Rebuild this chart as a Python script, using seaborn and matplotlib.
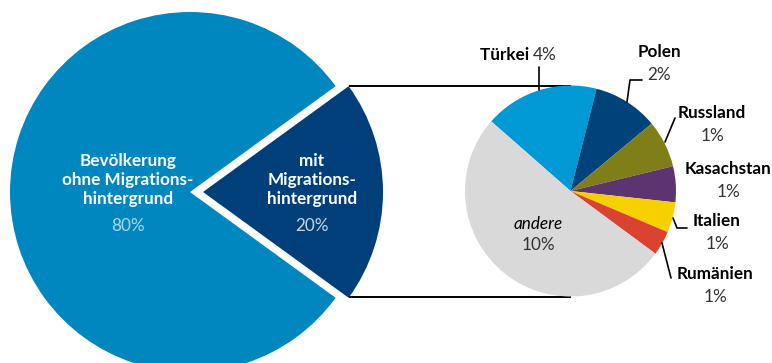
import numpy as np
import matplotlib
matplotlib.use("Agg")
import matplotlib.pyplot as plt
import seaborn as sns

# ---- data ----
main_labels = ["Bevölkerung\nohne Migrations-\nhintergrund", "mit\nMigrations-\nhintergrund"]
main_values = [80, 20]
main_pct = ["80%", "20%"]

sub_labels = ["Türkei", "Polen", "Russland", "Kasachstan", "Italien", "Rumänien", "andere"]
sub_values = [3.5, 2.0, 1.45, 1.1, 0.93, 0.75, 10.27]
sub_pct = ["4%", "2%", "1%", "1%", "1%", "1%", "10%"]

main_colors = ["#0087BF", "#003F7A"]
sub_colors = ["#0099D5", "#00427A", "#7F7E18", "#5E3470", "#F7D000", "#DA4331", "#D9D9D9"]

sns.set_theme(style="white")
plt.rcParams["font.family"] = ["Lato", "DejaVu Sans"]

W, H = 772, 363
fig = plt.figure(figsize=(W / 100, H / 100), dpi=100)
ax = fig.add_axes([0, 0, 1, 1])

# ---- big pie ----
R1 = 180
c1 = (190, 171)
half = 360 * main_values[1] / sum(main_values) / 2
explode_px = 13
ax.pie(main_values, colors=sns.color_palette(main_colors), startangle=half,
       counterclock=True, radius=R1, center=c1,
       explode=[0, explode_px], wedgeprops=dict(linewidth=0), frame=True)

# ---- small pie ----
R2 = 105.5
c2 = (570.5, 172)
start = 138.7
ax.pie(sub_values, colors=sns.color_palette(sub_colors), startangle=start,
       counterclock=False, radius=R2, center=c2,
       wedgeprops=dict(linewidth=0), frame=True)
ax.set_xlim(0, W)
ax.set_ylim(0, H)
ax.set_aspect("equal")
ax.axis("off")

# connector lines
cx = c1[0] + explode_px + R1 * np.cos(np.radians(half))
for s in (1, -1):
    ax.plot([cx, c2[0]], [c2[1] + s * R2, c2[1] + s * R2], color="black", lw=1.4,
            solid_capstyle="butt", zorder=0)

# ---- big pie texts ----
fs = 12.3
ax.text(128, 363 - 180, main_labels[0], ha="center", va="center", color="white",
        fontsize=fs, fontweight="bold", linespacing=1.2)
ax.text(128, 363 - 226, main_pct[0], ha="center", va="center", color="#A8D8EE", fontsize=fs)
ax.text(312, 363 - 180, main_labels[1], ha="center", va="center", color="white",
        fontsize=fs, fontweight="bold", linespacing=1.2)
ax.text(312, 363 - 226, main_pct[1], ha="center", va="center", color="#C9D6E6", fontsize=fs)

# ---- small pie labels ----
grey = "#333333"
ax.text(533, 363 - 55, sub_labels[0] + " ", ha="right", va="center", fontsize=fs,
        fontweight="bold", color="black")
ax.text(533, 363 - 55, sub_pct[0], ha="left", va="center", fontsize=fs, color=grey)
ax.plot([539, 539], [363 - 67, 363 - 90], color="black", lw=1.2)

pos = {
    1: (659, 52),
    2: (712, 113),
    3: (728, 169),
    4: (717, 221),
    5: (715, 274),
}
for i, (x, y) in pos.items():
    ax.text(x, 363 - y, sub_labels[i], ha="center", va="center", fontsize=fs,
            fontweight="bold", color="black")
    ax.text(x, 363 - y - 23, sub_pct[i], ha="center", va="center", fontsize=fs, color=grey)

leaders = [
    [(642, 80), (630, 80), (627, 102)],
    [(675, 118), (665, 142)],
    [(687, 228), (677, 228), (673, 218)],
    [(671, 278), (662, 243)],
]
for pts in leaders:
    ax.plot([p[0] for p in pts], [363 - p[1] for p in pts], color="black", lw=1.2)

ax.text(538, 363 - 224, sub_labels[6], ha="center", va="center", fontsize=fs,
        fontstyle="italic", color="black")
ax.text(538, 363 - 245, sub_pct[6], ha="center", va="center", fontsize=fs, color=grey)

fig.savefig("out.png", dpi=100)
